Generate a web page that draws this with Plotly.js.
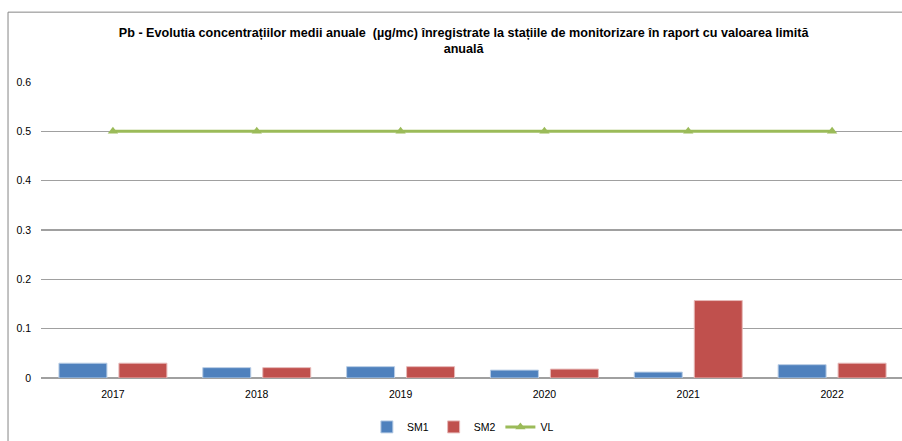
<!DOCTYPE html>
<html>
<head>
<meta charset="utf-8">
<script src="https://cdn.plot.ly/plotly-3.0.1.min.js"></script>
<style>html,body{margin:0;padding:0;background:#fff;}#chart{width:902px;height:441px;}</style>
</head>
<body>
<div id="chart"></div>
<script>
const years = ['2017', '2018', '2019', '2020', '2021', '2022'];
const sm1 = [0.030, 0.021, 0.023, 0.016, 0.012, 0.027];
const sm2 = [0.030, 0.021, 0.023, 0.018, 0.157, 0.030];
const vl = [0.5, 0.5, 0.5, 0.5, 0.5, 0.5];
const yTicks = [0, 0.1, 0.2, 0.3, 0.4, 0.5, 0.6];
const yTickText = ['0', '0.1', '0.2', '0.3', '0.4', '0.5', '0.6'];
const titleText = 'Pb - Evolutia concentrațiilor medii anuale  (µg/mc) înregistrate la stațiile de monitorizare în raport cu valoarea limită<br>anuală';

const FONT = '"Liberation Sans", Arial, sans-serif';

const traces = [
  {type: 'bar', name: 'SM1', x: years, y: sm1,
   marker: {color: '#4F81BD', line: {color: '#B9CDE5', width: 1}}},
  {type: 'bar', name: 'SM2', x: years, y: sm2,
   marker: {color: '#C0504D', line: {color: '#E6B9B8', width: 1}}},
  {type: 'scatter', mode: 'lines+markers', name: 'VL', x: years, y: vl,
   line: {color: '#9BBB59', width: 3},
   marker: {symbol: 'triangle-up', size: 9, color: '#9BBB59'}}
];

const layout = {
  width: 902, height: 441,
  margin: {l: 41, r: 0, t: 82, b: 63, autoexpand: false},
  paper_bgcolor: '#ffffff', plot_bgcolor: '#ffffff',
  font: {family: FONT, size: 10.5, color: '#000000'},
  title: {text: titleText, font: {family: FONT, size: 12.6, color: '#000', weight: 'bold'},
          x: 0.514, xanchor: 'center', y: 0.916, yanchor: 'top', yref: 'container'},
  barmode: 'group', bargap: 0.166, bargroupgap: 0.2,
  showlegend: true,
  legend: {orientation: 'h', x: 0.49, xanchor: 'center', y: 0.032, yanchor: 'middle', yref: 'container',
           font: {family: FONT, size: 10.5}, itemwidth: 30, tracegroupgap: 0},
  xaxis: {type: 'category', range: [-0.5, 5.486], showgrid: false, zeroline: false,
          showline: false, ticks: '', ticklabelstandoff: 8, tickfont: {family: FONT, size: 10.5}, fixedrange: true},
  yaxis: {range: [0, 0.6], tickvals: yTicks, ticktext: yTickText, showgrid: true,
          gridcolor: '#A0A0A0', gridwidth: 1.5, zeroline: true, zerolinecolor: '#A0A0A0', zerolinewidth: 2,
          showline: false, ticks: '', ticklabelstandoff: 9, tickfont: {family: FONT, size: 10.5}, fixedrange: true},
  shapes: [
    {type: 'line', xref: 'paper', yref: 'paper', x0: -0.0383, x1: -0.0383, y0: -0.3, y1: 1.236,
     line: {color: '#868686', width: 1}},
    {type: 'line', xref: 'paper', yref: 'paper', x0: -0.0383, x1: 1.05, y0: 1.236, y1: 1.236,
     line: {color: '#868686', width: 1}}
  ]
};

Plotly.newPlot('chart', traces, layout, {displayModeBar: false, staticPlot: true});
</script>
</body>
</html>
